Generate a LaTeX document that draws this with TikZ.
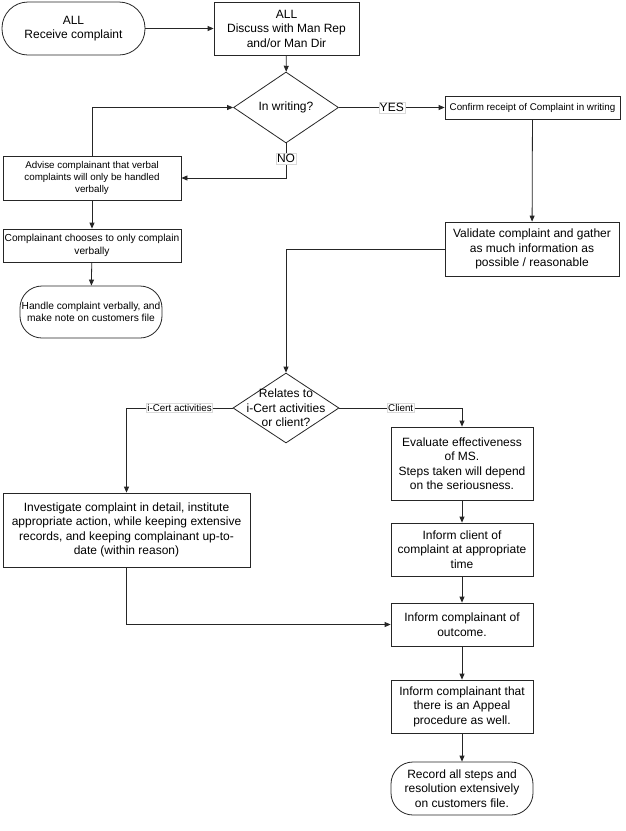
\documentclass[tikz,border=0pt]{standalone}
\usepackage{fontspec}
\setmainfont{Liberation Sans}
\usetikzlibrary{shapes.geometric,arrows.meta}
\begin{document}
\begin{tikzpicture}[x=1pt,y=-1pt,
  conn/.style={draw=black!85, line width=0.8pt},
  arr/.style={conn, -{Triangle[length=6pt,width=5pt]}},
  box/.style={draw=black!85, line width=0.8pt, rectangle, align=center, inner sep=1pt},
  term/.style={box, rounded corners=#1},
  dia/.style={draw=black!85, line width=0.8pt, diamond, inner sep=0pt},
  big/.style={font=\fontsize{12}{14.5}\selectfont},
  small/.style={font=\fontsize{9.8}{12}\selectfont},
  lab/.style={fill=white, draw=black!15, inner sep=1pt, line width=0.4pt}
]
\useasboundingbox (0,0) rectangle (625,831);
\fill[white] (0,0) rectangle (625,831);

\node[term=26,big,minimum width=143,minimum height=53] (recv) at (73.5,28.5) {ALL\\Receive complaint};
\node[box,big,minimum width=145,minimum height=53] (disc) at (286.5,28.5) {ALL\\Discuss with Man Rep\\and/or Man Dir};
\node[dia,minimum width=105,minimum height=71] (w) at (286,107.5) {};
\node[big] (wt) at (w) {In writing?};
\node[box,font=\fontsize{9.8}{11}\selectfont,minimum width=175,minimum height=23] (conf) at (532.5,107.5) {Confirm receipt of Complaint in writing};
\node[box,big,minimum width=174,minimum height=54] (val) at (532,249) {Validate complaint and gather\\as much information as\\possible / reasonable};
\node[box,small,minimum width=178,minimum height=44] (adv) at (92,178) {Advise complainant that verbal\\complaints will only be handled\\verbally};
\node[box,font=\fontsize{10.2}{12.5}\selectfont,minimum width=178,minimum height=33] (cho) at (92,245.5) {Complainant chooses to only complain\\verbally};
\node[term=22,font=\fontsize{10.2}{12.5}\selectfont,minimum width=142,minimum height=52] (hand) at (91,312) {Handle complaint verbally, and\\make note on customers file};
\node[dia,minimum width=106,minimum height=70] (rel) at (286,408) {};
\node[big,align=center] (relt) at (rel) {Relates to\\i-Cert activities\\or client?};
\node[box,big,minimum width=142,minimum height=73] (eva) at (462,463.5) {Evaluate effectiveness\\of MS.\\Steps taken will depend\\on the seriousness.};
\node[box,big,minimum width=142,minimum height=53] (icl) at (462,549.5) {Inform client of\\complaint at appropriate\\time};
\node[box,big,minimum width=142,minimum height=43] (out) at (462,624.5) {Inform complainant of\\outcome.};
\node[box,big,minimum width=247,minimum height=74] (inv) at (126.5,530) {Investigate complaint in detail, institute\\appropriate action, while keeping extensive\\records, and keeping complainant up-to-\\date (within reason)};
\node[box,big,minimum width=142,minimum height=53] (app) at (462,706.5) {Inform complainant that\\there is an Appeal\\procedure as well.};
\node[term=22,big,minimum width=142,minimum height=53] (rec) at (462,788.5) {Record all steps and\\resolution extensively\\on customers file.};

\draw[arr] (recv) -- (disc);
\draw[arr] (disc) -- (w);
\draw[arr] (w.east) -- node[lab,big] {YES} (conf.west);
\draw[arr] (conf) -- (val);
\draw[arr] (w.south) |- node[lab,big,pos=0.22] {NO} (adv.east);
\draw[arr] (adv.north) |- (w.west);
\draw[arr] (adv) -- (cho);
\draw[arr] (cho) -- (hand);
\draw[arr] (val.west) -| (rel.north);
\draw[arr] (rel.west) -| node[lab,small,pos=0.25] {i-Cert activities} (inv.north);
\draw[arr] (rel.east) -| node[lab,small,pos=0.25] {Client} (eva.north);
\draw[arr] (eva) -- (icl);
\draw[arr] (icl) -- (out);
\draw[arr] (inv.south) |- (out.west);
\draw[arr] (out) -- (app);
\draw[arr] (app) -- (rec);
\end{tikzpicture}
\end{document}
